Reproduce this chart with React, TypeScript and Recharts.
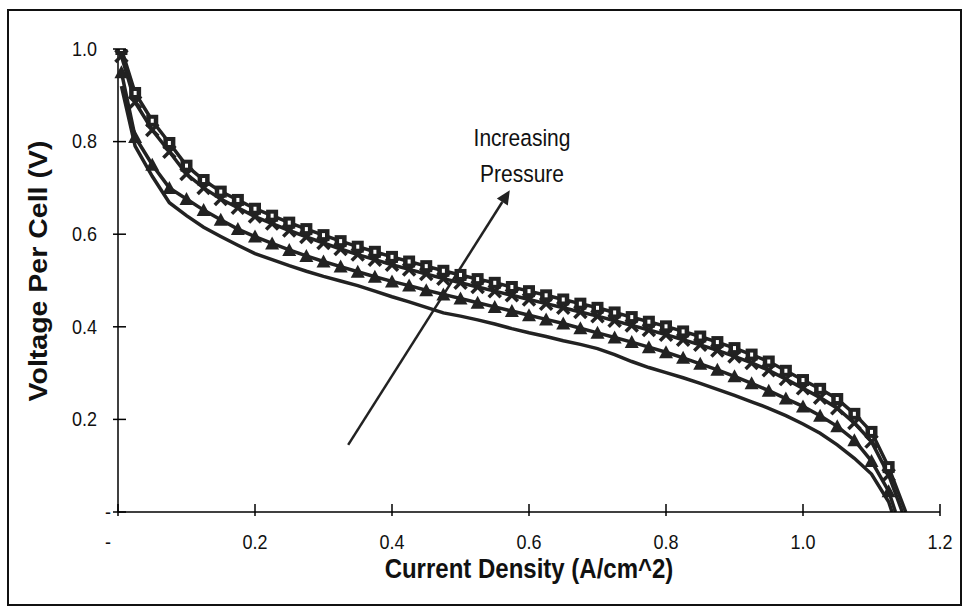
import React from "react"
import { LineChart, Line, XAxis, YAxis, ReferenceLine } from "recharts"

// current density (A/cm^2) sampled for every curve
const currentDensity = [
  0.005, 0.025, 0.05, 0.075, 0.1, 0.125, 0.15, 0.175, 0.2, 0.225, 0.25, 0.275, 0.3, 0.325, 0.35, 0.375,
  0.4, 0.425, 0.45, 0.475, 0.5, 0.525, 0.55, 0.575, 0.6, 0.625, 0.65, 0.675, 0.7, 0.725, 0.75, 0.775,
  0.8, 0.825, 0.85, 0.875, 0.9, 0.925, 0.95, 0.975, 1.0, 1.025, 1.05, 1.075, 1.1, 1.125,
]

// voltage per cell, lowest pressure first
const voltageP1 = [
  0.92, 0.79, 0.725, 0.668, 0.64, 0.615, 0.595, 0.576, 0.558, 0.545, 0.532, 0.52, 0.509, 0.499, 0.489, 0.477,
  0.465, 0.454, 0.442, 0.43, 0.423, 0.415, 0.406, 0.396, 0.387, 0.379, 0.37, 0.362, 0.353, 0.34, 0.325, 0.312,
  0.301, 0.29, 0.278, 0.265, 0.252, 0.238, 0.224, 0.208, 0.19, 0.17, 0.145, 0.116, 0.082, 0.022,
]
const voltageP2 = [
  0.95, 0.81, 0.75, 0.7, 0.676, 0.652, 0.631, 0.611, 0.595, 0.58, 0.566, 0.553, 0.541, 0.53, 0.519, 0.508,
  0.498, 0.489, 0.479, 0.47, 0.461, 0.452, 0.443, 0.434, 0.425, 0.416, 0.407, 0.397, 0.387, 0.377, 0.367, 0.356,
  0.345, 0.333, 0.32, 0.307, 0.293, 0.278, 0.262, 0.245, 0.228, 0.208, 0.185, 0.155, 0.11, 0.045,
]
const voltageP3 = [
  0.985, 0.885, 0.825, 0.778, 0.73, 0.7, 0.676, 0.657, 0.638, 0.623, 0.608, 0.594, 0.581, 0.568, 0.556, 0.545,
  0.534, 0.524, 0.514, 0.504, 0.495, 0.486, 0.477, 0.468, 0.459, 0.45, 0.441, 0.432, 0.423, 0.413, 0.403, 0.393,
  0.383, 0.372, 0.361, 0.349, 0.336, 0.322, 0.306, 0.287, 0.267, 0.247, 0.224, 0.192, 0.152, 0.08,
]
const voltageP4 = [
  1.0, 0.905, 0.845, 0.797, 0.748, 0.717, 0.692, 0.674, 0.655, 0.64, 0.625, 0.611, 0.598, 0.585, 0.573, 0.562,
  0.551, 0.541, 0.531, 0.521, 0.512, 0.503, 0.495, 0.486, 0.477, 0.468, 0.459, 0.45, 0.441, 0.431, 0.421, 0.411,
  0.401, 0.39, 0.379, 0.367, 0.354, 0.34, 0.325, 0.305, 0.285, 0.266, 0.244, 0.212, 0.173, 0.097,
]
// current density where each curve reaches zero volts
const limitingCurrent = [1.13, 1.135, 1.145, 1.15]

const xTicks = [0, 0.2, 0.4, 0.6, 0.8, 1.0, 1.2]
const yTicks = [0, 0.2, 0.4, 0.6, 0.8, 1.0]

// arrow in data units: from (x, y) to (x, y)
const arrowFrom = { x: 0.336, y: 0.145 }
const arrowTo = { x: 0.572, y: 0.695 }

const INK = "#222"
const FONT = "'Liberation Sans', Arial, sans-serif"

const toSeries = (values: number[], end: number) =>
  currentDensity.map((x, i) => ({ x, v: values[i] })).concat([{ x: end, v: 0 }])

const fmt = (v: number) => (v === 0 ? "-" : v.toFixed(1))

// the scanned original is a little taller than plain Arial
const stretch = (x: number, y: number) => `translate(${x},${y}) scale(1,1.15) translate(${-x},${-y})`

const YTick = (props: any) => {
  const { x, y, payload } = props
  const zero = payload.value === 0
  const tx = zero ? x - 10 : x - 21
  return (
    <g>
      <line x1={x - 5} x2={x + 8} y1={y} y2={y} stroke="#000" strokeWidth={1.5} />
      <text x={tx} y={y + 6} transform={stretch(tx, y)} textAnchor={zero ? "middle" : "end"}
        fontSize={18} fontFamily={FONT} fill="#111">
        {fmt(payload.value)}
      </text>
    </g>
  )
}

const XTick = (props: any) => {
  const { x, y, payload } = props
  const zero = payload.value === 0
  const tx = zero ? x - 10 : x
  return (
    <g>
      <line x1={x} x2={x} y1={y - 8} y2={y + 4} stroke="#000" strokeWidth={1.5} />
      <text x={tx} y={y + 37} transform={stretch(tx, y + 37)} textAnchor="middle" fontSize={18} fontFamily={FONT} fill="#111">
        {fmt(payload.value)}
      </text>
    </g>
  )
}

const Triangle = (props: any) => {
  const { cx, cy, index } = props
  if (cx == null || cy == null || index === currentDensity.length) return <g key={index} />
  return <polygon key={index} points={`${cx},${cy - 7} ${cx - 7},${cy + 6} ${cx + 7},${cy + 6}`} fill={INK} />
}

const Cross = (props: any) => {
  const { cx, cy, index } = props
  if (cx == null || cy == null || index === currentDensity.length) return <g key={index} />
  return (
    <g key={index} stroke={INK} strokeWidth={3.5}>
      <line x1={cx - 6} y1={cy - 6} x2={cx + 6} y2={cy + 6} />
      <line x1={cx - 6} y1={cy + 6} x2={cx + 6} y2={cy - 6} />
    </g>
  )
}

const HollowSquare = (props: any) => {
  const { cx, cy, index } = props
  if (cx == null || cy == null || index === currentDensity.length) return <g key={index} />
  return (
    <g key={index}>
      <rect x={cx - 6} y={cy - 6} width={12} height={12} fill={INK} />
      <rect x={cx - 1.5} y={cy - 2} width={3} height={4} fill="#fff" />
    </g>
  )
}

const Arrow = (props: any) => {
  const { x1, y1, x2, y2 } = props
  if (x1 == null) return null
  const ang = Math.atan2(y2 - y1, x2 - x1)
  const len = 14
  const w = 6.5
  const bx = x2 - len * Math.cos(ang)
  const by = y2 - len * Math.sin(ang)
  const px = -Math.sin(ang) * w
  const py = Math.cos(ang) * w
  return (
    <g>
      <line x1={x1} y1={y1} x2={bx} y2={by} stroke={INK} strokeWidth={2.5} />
      <polygon points={`${x2},${y2} ${bx + px},${by + py} ${bx - px},${by - py}`} fill={INK} />
    </g>
  )
}

export default function App() {
  const series = [
    { key: "p1", data: toSeries(voltageP1, limitingCurrent[0]), dot: false as any },
    { key: "p2", data: toSeries(voltageP2, limitingCurrent[1]), dot: Triangle },
    { key: "p3", data: toSeries(voltageP3, limitingCurrent[2]), dot: Cross },
    { key: "p4", data: toSeries(voltageP4, limitingCurrent[3]), dot: HollowSquare },
  ]

  return (
    <div style={{ position: "absolute", left: 0, top: 0, width: 969, height: 614, background: "#fff", fontFamily: FONT }}>
      <div style={{ position: "absolute", left: 7, top: 9, width: 951, height: 593, border: "2px solid #111" }} />
      <LineChart width={969} height={614} margin={{ top: 49, right: 29, bottom: 72, left: 58 }}>
        <XAxis
          type="number"
          dataKey="x"
          domain={[0, 1.2]}
          ticks={xTicks}
          height={30}
          tickSize={0}
          tickMargin={0}
          tickLine={false}
          tick={XTick}
          axisLine={{ stroke: "#000", strokeWidth: 1.5 }}
          allowDuplicatedCategory={false}
        />
        <YAxis
          type="number"
          domain={[0, 1]}
          ticks={yTicks}
          width={60}
          tickSize={0}
          tickMargin={0}
          tickLine={false}
          tick={YTick}
          axisLine={{ stroke: "#000", strokeWidth: 1.5 }}
          allowDataOverflow
        />
        {series.map((s) => (
          <Line
            key={s.key}
            data={s.data}
            dataKey="v"
            type="linear"
            stroke={INK}
            strokeWidth={3.5}
            dot={s.dot}
            activeDot={false}
            isAnimationActive={false}
          />
        ))}
        <ReferenceLine
          segment={[arrowFrom, arrowTo]}
          stroke={INK}
          shape={Arrow}
          ifOverflow="visible"
        />
      </LineChart>
      <div style={{ position: "absolute", left: 422, top: 124, width: 200, textAlign: "center", fontSize: 21, lineHeight: "32px", color: "#111", transform: "scaleY(1.12)" }}>
        Increasing
        <br />
        Pressure
      </div>
      <div style={{ position: "absolute", left: 329, top: 555, width: 400, textAlign: "center", fontSize: 24, fontWeight: "bold", color: "#111", transform: "scaleY(1.15)" }}>
        Current Density (A/cm^2)
      </div>
      <div
        style={{
          position: "absolute",
          left: 38 - 200,
          top: 271 - 15,
          width: 400,
          height: 30,
          lineHeight: "30px",
          textAlign: "center",
          fontSize: 25,
          fontWeight: "bold",
          color: "#111",
          transform: "rotate(-90deg) scaleX(1.14)",
        }}
      >
        Voltage Per Cell (V)
      </div>
    </div>
  )
}
